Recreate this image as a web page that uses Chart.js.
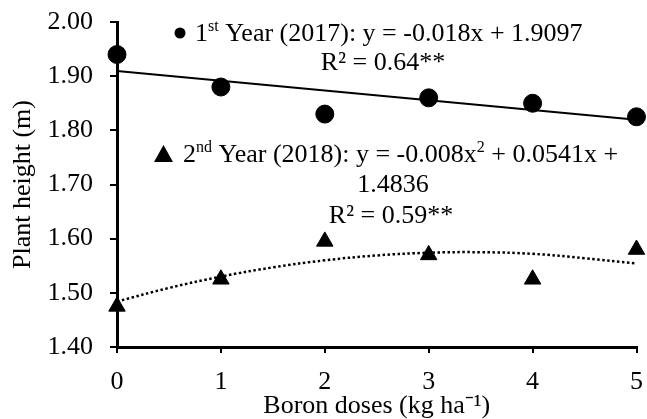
<!DOCTYPE html>
<html>
<head>
<meta charset="utf-8">
<script src="https://cdn.jsdelivr.net/npm/chart.js@4/dist/chart.umd.min.js"></script>
<style>
  html, body { margin: 0; padding: 0; background: #fff; }
  #wrap { width: 647px; height: 419px; }
</style>
</head>
<body>
<div id="wrap"><canvas id="c" width="647" height="419"></canvas></div>
<script>
const doses = [0, 1, 2, 3, 4, 5];
const year2017 = [1.94, 1.88, 1.83, 1.86, 1.85, 1.825];
const year2018 = [1.475, 1.525, 1.595, 1.57, 1.525, 1.58];

// trendlines
const linFitX = [0, 5];
const linFitY = [1.9097, 1.8197];
const quadFitX = [0, 0.5, 1, 1.5, 2, 2.5, 3, 3.5, 4, 4.5, 5];
const quadFitY = [1.484, 1.509, 1.530, 1.547, 1.560, 1.569, 1.574, 1.575, 1.572, 1.564, 1.554];

const FONT = "'Liberation Serif', 'Times New Roman', serif";

function pts(xs, ys) {
  return xs.map((x, i) => ({ x: x, y: ys[i] }));
}

// draws text made of [text, isSup] parts
function drawRich(ctx, parts, x, y, align) {
  const big = "26px " + FONT, small = "16px " + FONT;
  let w = 0;
  parts.forEach(p => { ctx.font = p[1] ? small : big; w += ctx.measureText(p[0]).width; });
  let cx = align === "center" ? x - w / 2 : x;
  ctx.textAlign = "left";
  ctx.textBaseline = "alphabetic";
  parts.forEach(p => {
    ctx.font = p[1] ? small : big;
    ctx.fillText(p[0], cx, p[1] ? y - 10 : y);
    cx += ctx.measureText(p[0]).width;
  });
}

const labelsPlugin = {
  id: "labels",
  afterDraw(chart) {
    const ctx = chart.ctx;
    ctx.save();
    ctx.fillStyle = "#000";
    // legend markers
    ctx.beginPath();
    ctx.arc(180, 33, 5.5, 0, Math.PI * 2);
    ctx.fill();
    ctx.beginPath();
    ctx.moveTo(154, 162);
    ctx.lineTo(173, 162);
    ctx.lineTo(163.5, 145);
    ctx.closePath();
    ctx.fill();

    drawRich(ctx, [["1", false], ["st", true], [" Year (2017): y = -0.018x + 1.9097", false]], 195, 41, "left");
    drawRich(ctx, [["R\u00B2 = 0.64**", false]], 383, 70, "center");
    drawRich(ctx, [["2", false], ["nd", true], [" Year (2018): y = -0.008x", false], ["2", true], [" + 0.0541x +", false]], 183, 162, "left");
    drawRich(ctx, [["1.4836", false]], 393, 192, "center");
    drawRich(ctx, [["R\u00B2 = 0.59**", false]], 391, 223, "center");
    ctx.restore();
  }
};

new Chart(document.getElementById("c"), {
  type: "scatter",
  data: {
    datasets: [
      {
        data: pts(doses, year2017),
        pointStyle: "circle",
        pointRadius: 9,
        backgroundColor: "#000",
        borderColor: "#000",
        order: 1
      },
      {
        data: pts(doses, year2018),
        pointStyle: "triangle",
        pointRadius: 9.5,
        backgroundColor: "#000",
        borderColor: "#000",
        order: 1
      },
      {
        type: "line",
        data: pts(linFitX, linFitY),
        borderColor: "#000",
        borderWidth: 2,
        pointRadius: 0,
        fill: false,
        order: 2
      },
      {
        type: "line",
        data: pts(quadFitX, quadFitY),
        borderColor: "#000",
        borderWidth: 2.5,
        borderDash: [2.5, 2.5],
        pointRadius: 0,
        tension: 0.4,
        fill: false,
        order: 2
      }
    ]
  },
  options: {
    responsive: false,
    animation: false,
    clip: false,
    layout: { padding: { left: 0, right: 8, top: 22, bottom: 0 } },
    plugins: { legend: { display: false }, tooltip: { enabled: false } },
    scales: {
      x: {
        type: "linear",
        min: 0,
        max: 5,
        afterFit: s => { s.height = 72; s.paddingLeft = 0; s.paddingRight = 0; },
        ticks: { stepSize: 1, color: "#000", font: { family: FONT, size: 26 }, padding: 14 },
        grid: { drawOnChartArea: false, drawTicks: true, tickLength: 6, color: "#000", lineWidth: 2 },
        border: { color: "#000", width: 3 },
        title: { display: true, text: "Boron doses (kg ha\u207B\u00B9)", color: "#000", font: { family: FONT, size: 26 }, padding: { top: 0, bottom: -3 } }
      },
      y: {
        min: 1.4,
        max: 2.0,
        afterFit: s => { s.width = 117; s.paddingTop = 0; s.paddingBottom = 0; },
        ticks: { stepSize: 0.1, color: "#000", font: { family: FONT, size: 26 }, padding: 17,
          callback: v => v.toFixed(2) },
        grid: { drawOnChartArea: false, drawTicks: true, tickLength: 7, color: "#000", lineWidth: 2 },
        border: { color: "#000", width: 3 },
        title: { display: true, text: "Plant height (m)", color: "#000", font: { family: FONT, size: 26 }, padding: { top: 8, bottom: 0 } }
      }
    }
  },
  plugins: [labelsPlugin]
});
</script>
</body>
</html>
